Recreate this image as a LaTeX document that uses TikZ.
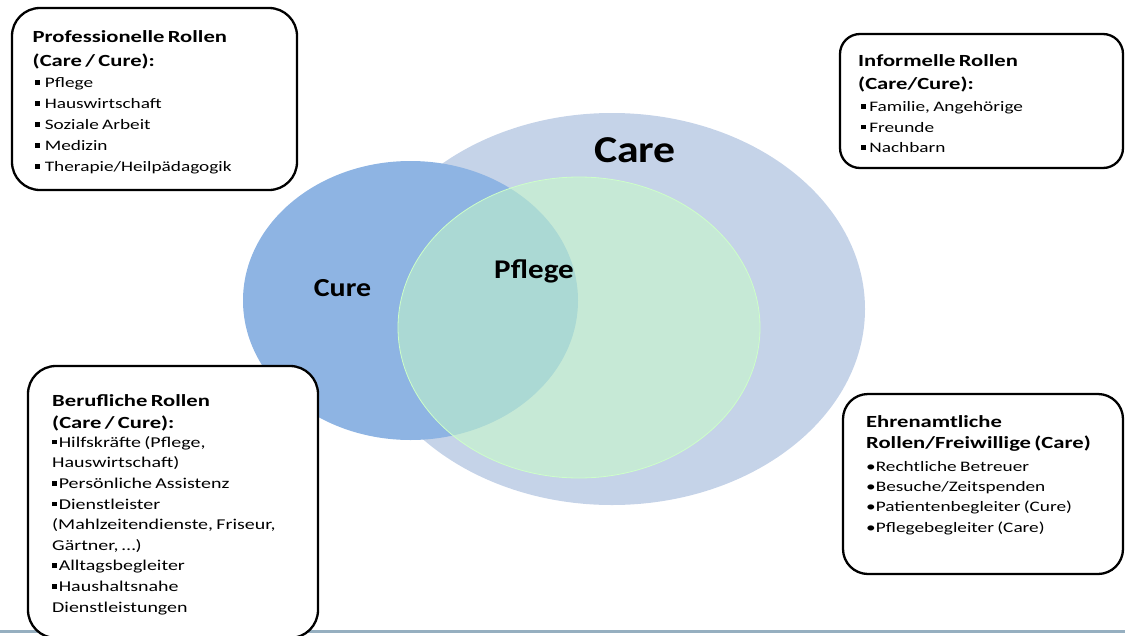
\documentclass[tikz,border=0pt]{standalone}
\usepackage{fontspec}
\setmainfont{Carlito}[FakeStretch=1.33]
\newfontfamily\lblfont{Carlito}[FakeStretch=1.15]
\definecolor{careblue}{RGB}{197,211,232}
\definecolor{cureblue}{RGB}{142,180,227}
\definecolor{pflegegreen}{RGB}{200,255,198}
\definecolor{pflegeedge}{RGB}{205,255,200}
\definecolor{lineblue}{RGB}{150,175,192}
\newcommand\sqb{\rule[2.8pt]{4.6pt}{4.6pt}}
\tikzset{
  rolebox/.style={draw=black, line width=2.3pt, rounded corners=#1, fill=white,
    inner sep=0pt, outer sep=0pt, anchor=north west},
  rolebox/.default=28pt,
  roletext/.style={inner sep=0pt, anchor=base west, text width=#1, align=left},
  roletext/.default=270pt,
  lbl/.style={inner sep=0pt, anchor=base, text=black},
}
\begin{document}
\begin{tikzpicture}[x=1pt,y=-1pt]
\useasboundingbox (0,0) rectangle (1125,635);
% bottom rule
\coordinate (lineL) at (0,631.5);
\coordinate (lineR) at (1125,631.5);
\draw[lineblue, line width=2.5pt] (lineL) -- (lineR);
% Venn ellipses
\fill[careblue] (612,309) ellipse [x radius=253, y radius=196];
\fill[cureblue] (410.5,300.5) ellipse [x radius=167.5, y radius=139.5];
\fill[pflegegreen, fill opacity=0.5] (579,327.5) ellipse [x radius=181, y radius=150.5];
\draw[pflegeedge, line width=0.8pt] (579,327.5) ellipse [x radius=181, y radius=150.5];
% labels
\node[lbl, font={\lblfont\fontsize{38}{40}\selectfont\bfseries}] (carelbl) at (635,162) {Care};
\node[lbl, font={\lblfont\fontsize{26}{28}\selectfont\bfseries}] (curelbl) at (342.5,296.5) {Cure};
\node[lbl, font={\lblfont\fontsize{27}{29}\selectfont\bfseries}] (pflegelbl) at (534,278) {Pflege};
% boxes
\node[rolebox=28pt, minimum width=285pt, minimum height=182pt] (pro) at (12,8) {};
\node[rolebox=20pt, minimum width=283pt, minimum height=134pt] (info) at (840,34) {};
\node[rolebox=28pt, minimum width=290pt, minimum height=272pt] (beruf) at (28,366) {};
\node[rolebox=25pt, minimum width=280pt, minimum height=180pt] (ehren) at (843,394) {};
% box texts
\node[roletext] (protxt) at (32.5,42.5) {%
{\fontsize{17}{24}\selectfont\bfseries Professionelle Rollen\\(Care / Cure):\par}%
{\fontsize{14.5}{21}\selectfont
\hspace*{2.5pt}\sqb\hspace{5pt}Pflege\\
\hspace*{2.5pt}\sqb\hspace{5pt}Hauswirtschaft\\
\hspace*{2.5pt}\sqb\hspace{5pt}Soziale Arbeit\\
\hspace*{2.5pt}\sqb\hspace{5pt}Medizin\\
\hspace*{2.5pt}\sqb\hspace{5pt}Therapie/Heilpädagogik\par}};
\node[roletext] (infotxt) at (858,66.5) {%
{\fontsize{17}{22.6}\selectfont\bfseries Informelle Rollen\\(Care/Cure):\par}%
\vspace{2pt}%
{\fontsize{14.5}{20.5}\selectfont
\hspace*{3pt}\sqb\hspace{3.5pt}Familie, Angehörige\\
\hspace*{3pt}\sqb\hspace{3.5pt}Freunde\\
\hspace*{3pt}\sqb\hspace{3.5pt}Nachbarn\par}};
\node[roletext] (beruftxt) at (52,406.5) {%
{\fontsize{17}{21.6}\selectfont\bfseries Berufliche Rollen\\(Care / Cure):\par}%
\vspace{-1.5pt}%
{\fontsize{15}{20.6}\selectfont
\sqb\hspace{2pt}Hilfskräfte (Pflege,\\
Hauswirtschaft)\\
\sqb\hspace{2pt}Persönliche Assistenz\\
\sqb\hspace{2pt}Dienstleister\\
(Mahlzeitendienste, Friseur,\\
Gärtner, …)\\
\sqb\hspace{2pt}Alltagsbegleiter\\
\sqb\hspace{2pt}Haushaltsnahe\\
Dienstleistungen\par}};
\node[roletext] (ehrentxt) at (866,427) {%
{\fontsize{17}{21.3}\selectfont\bfseries Ehrenamtliche\\Rollen/Freiwillige (Care)\par}%
\vspace{2.3pt}%
{\fontsize{14.5}{20.4}\selectfont
•Rechtliche Betreuer\\
•Besuche/Zeitspenden\\
•Patientenbegleiter (Cure)\\
•Pflegebegleiter (Care)\par}};
\end{tikzpicture}
\end{document}
